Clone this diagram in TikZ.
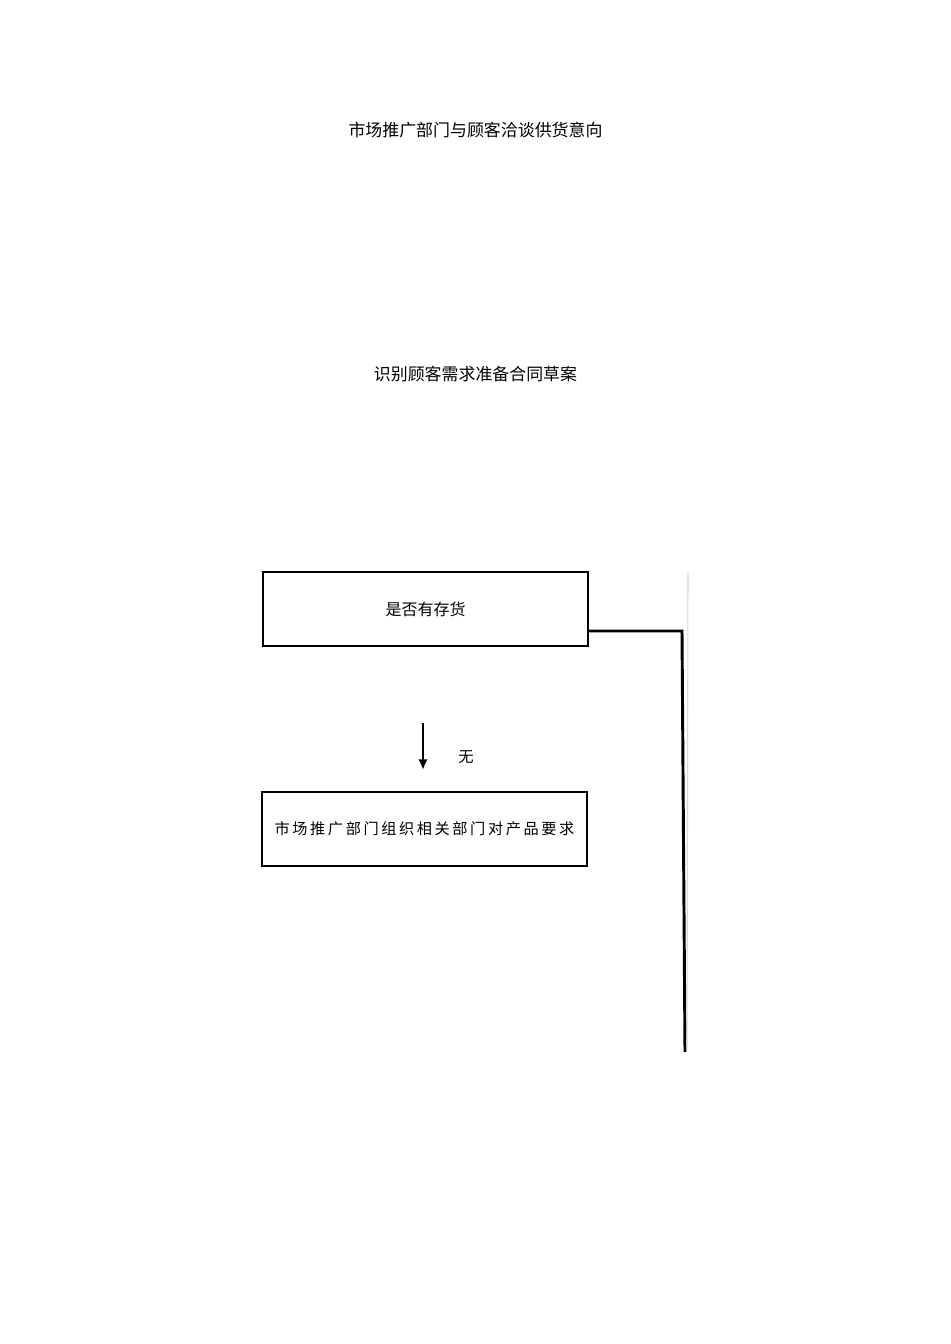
\documentclass[tikz,border=0pt]{standalone}
\usepackage{fontspec}
\setmainfont{Noto Sans CJK SC}
\usetikzlibrary{arrows.meta}
\usetikzlibrary{positioning}

\begin{document}
\begin{tikzpicture}[x=0.75pt, y=-0.75pt,
    steptext/.style = {font=\fontsize{12.7}{15}\selectfont, inner sep=0pt},
    stepbox/.style = {draw, line width=1pt, minimum width=243.75pt, minimum height=55.5pt, inner sep=0pt},
    flowline/.style = {line width=2.2pt}]
    \useasboundingbox (0,0) rectangle (950,1344);
    \node[steptext] (talk) at (475.5,130) {市场推广部门与顾客洽谈供货意向};
    \node[steptext] (draft) at (475.5,374) {识别顾客需求准备合同草案};
    \node[stepbox, font=\fontsize{12}{14}\selectfont] (stock) at (425.5,609) {是否有存货};
    \node[stepbox, font=\fontsize{11.4}{14}\selectfont\addfontfeature{LetterSpace=17}] (review) at (424.5,829) {\raisebox{2pt}{市场推广部门组织相关部门对产品要求}};
    % arrow for "no stock"
    \coordinate (notop) at (423,723);
    \coordinate (nobot) at (423,770);
    \draw[line width=1.6pt, -{Latex[length=8pt, width=7pt]}] (notop) -- (nobot);
    \node[font=\fontsize{11.5}{14}\selectfont, inner sep=0pt] (nolabel) at (466,757) {无};
    % line on the right side
    \coordinate (corner) at (682,631);
    \coordinate (lineend) at (685,1052);
    \draw[flowline] (stock.east |- corner) -- (corner) -- (lineend);
    \coordinate (greytop) at (688,572);
    \coordinate (greybot) at (687,1048);
    \draw[black!15, line width=0.8pt] (greytop) -- (greybot);
\end{tikzpicture}
\end{document}
